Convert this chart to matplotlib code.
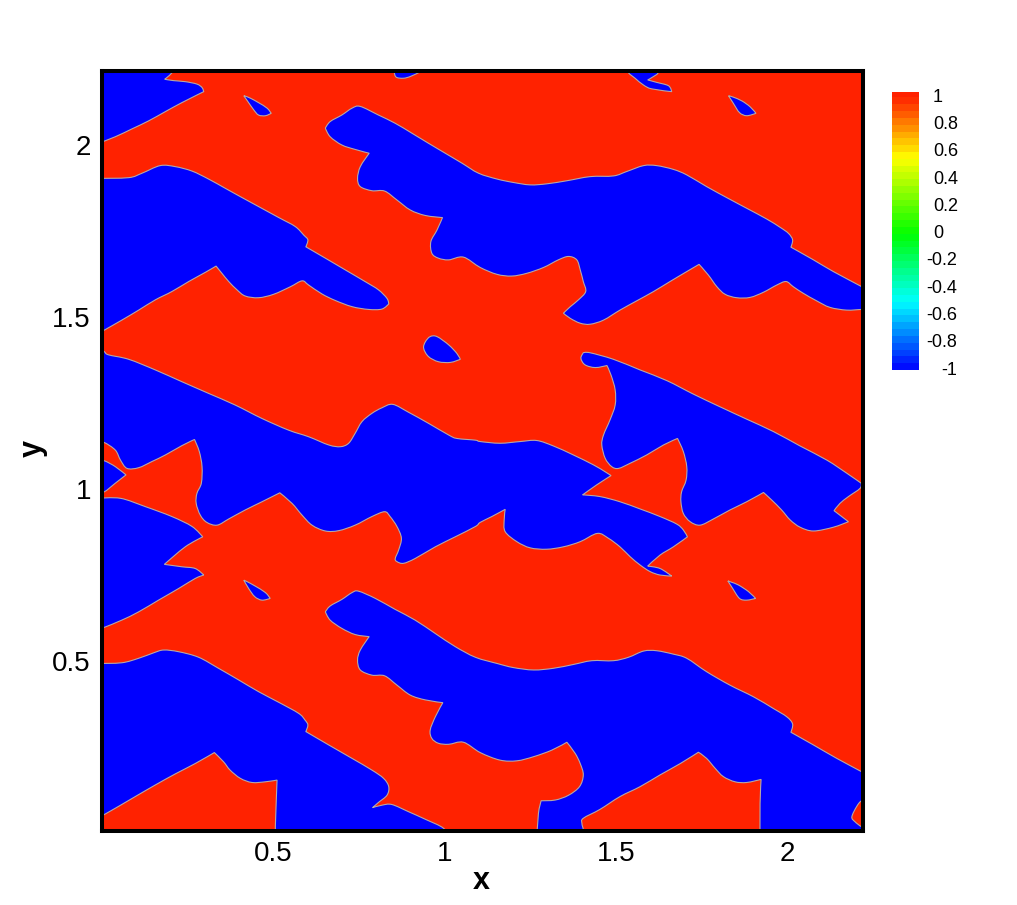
#! /usr/bin/env python3
import math
import matplotlib
matplotlib.use('Agg')
import matplotlib.pyplot as plt
from matplotlib.colors import LinearSegmentedColormap
from matplotlib.path import Path
from matplotlib.patches import PathPatch

# blue (phase = -1) regions, outlines in x,y units
corner_top_left = [(-0.01,2.005),(0.039,2.024),(0.088,2.047),(0.136,2.070),(0.185,2.097),(0.233,2.123),
    (0.297,2.155),(0.292,2.167),(0.277,2.177),(0.243,2.184),(0.209,2.187),(0.183,2.191),(0.206,2.213),
    (0.206,2.24),(-0.01,2.24)]
top_nub = [(0.853,2.24),(0.853,2.213),(0.859,2.197),(0.880,2.194),(0.900,2.199),(0.924,2.210),(0.924,2.24)]
top_hook = [(1.535,2.24),(1.535,2.213),(1.556,2.194),(1.581,2.174),(1.605,2.163),(1.663,2.155),(1.654,2.172),
    (1.619,2.182),(1.593,2.189),(1.610,2.199),(1.624,2.211),(1.624,2.24)]
drop_top_left = [(0.414,2.143),(0.426,2.126),(0.443,2.102),(0.457,2.087),(0.477,2.085),(0.494,2.092),
    (0.482,2.107),(0.457,2.123),(0.433,2.136),(0.418,2.142)]
drop_top_right = [(1.829,2.143),(1.843,2.121),(1.861,2.094),(1.882,2.085),(1.909,2.092),(1.892,2.111),
    (1.868,2.128),(1.843,2.139)]
drop_center = [(0.939,1.409),(0.944,1.428),(0.958,1.443),(0.978,1.443),(1.012,1.419),(1.036,1.394),
    (1.046,1.377),(1.017,1.368),(0.982,1.370),(0.953,1.385)]
drop_low_left = [(0.414,0.735),(0.428,0.711),(0.446,0.687),(0.467,0.677),(0.491,0.682),(0.477,0.699),
    (0.447,0.718),(0.423,0.731)]
drop_low_right = [(1.827,0.733),(1.841,0.711),(1.861,0.682),(1.882,0.677),(1.908,0.682),(1.887,0.702),
    (1.858,0.721),(1.838,0.729)]

band_upper_right = [(0.652,2.049),(0.666,2.068),(0.700,2.087),(0.730,2.107),(0.754,2.112),(0.807,2.087),
    (0.856,2.063),(0.905,2.034),(0.953,2.005),(1.002,1.976),(1.051,1.947),(1.099,1.918),(1.153,1.901),
    (1.201,1.891),(1.250,1.884),(1.298,1.887),(1.357,1.896),(1.425,1.908),(1.493,1.910),(1.532,1.923),
    (1.581,1.940),(1.619,1.940),(1.668,1.929),(1.707,1.913),(1.765,1.879),(1.833,1.842),(1.882,1.816),
    (1.940,1.785),(1.979,1.761),(2.004,1.743),(2.016,1.724),(2.011,1.703),(2.077,1.666),(2.135,1.632),
    (2.218,1.588),(2.242,1.574),(2.242,1.522),(2.218,1.522),(2.174,1.520),(2.125,1.528),(2.086,1.547),
    (2.047,1.569),(2.018,1.588),(1.997,1.603),(1.970,1.593),(1.931,1.572),(1.892,1.557),(1.853,1.556),
    (1.819,1.566),(1.795,1.588),(1.770,1.622),(1.743,1.653),(1.707,1.632),(1.658,1.603),(1.610,1.574),
    (1.561,1.547),(1.512,1.520),(1.464,1.491),(1.425,1.479),(1.396,1.482),(1.367,1.496),(1.347,1.511),
    (1.367,1.530),(1.391,1.550),(1.412,1.574),(1.405,1.603),(1.396,1.637),(1.386,1.666),(1.362,1.676),
    (1.332,1.666),(1.289,1.644),(1.240,1.627),(1.196,1.619),(1.153,1.624),(1.104,1.644),(1.055,1.674),
    (1.012,1.666),(0.982,1.671),(0.963,1.685),(0.960,1.719),(0.978,1.753),(0.994,1.789),(0.944,1.795),
    (0.900,1.811),(0.861,1.840),(0.825,1.866),(0.788,1.867),(0.754,1.879),(0.746,1.903),(0.754,1.937),
    (0.780,1.976),(0.739,1.987),(0.700,2.000),(0.666,2.024)]

band_upper_left = [(-0.01,1.903),(0.078,1.905),(0.117,1.918),(0.170,1.940),(0.214,1.937),(0.263,1.924),
    (0.311,1.901),(0.360,1.874),(0.409,1.847),(0.457,1.821),(0.516,1.789),(0.564,1.763),(0.589,1.738),
    (0.601,1.724),(0.595,1.704),(0.652,1.671),(0.710,1.637),(0.768,1.603),(0.807,1.579),(0.832,1.554),
    (0.837,1.538),(0.817,1.523),(0.778,1.522),(0.730,1.530),(0.681,1.548),(0.642,1.567),(0.603,1.593),
    (0.584,1.605),(0.550,1.588),(0.501,1.566),(0.457,1.556),(0.418,1.561),(0.394,1.579),(0.370,1.603),
    (0.350,1.627),(0.333,1.648),(0.302,1.630),(0.253,1.603),(0.204,1.574),(0.156,1.550),(0.107,1.520),
    (0.058,1.491),(0.007,1.462),(-0.01,1.452)]

band_middle = [(-0.01,1.41),(0.007,1.399),(0.019,1.390),(0.078,1.377),(0.156,1.346),(0.233,1.312),(0.311,1.278),
    (0.389,1.244),(0.467,1.205),(0.545,1.171),(0.603,1.152),(0.662,1.128),(0.696,1.123),(0.720,1.133),
    (0.739,1.162),(0.759,1.196),(0.788,1.220),(0.817,1.236),(0.849,1.246),(0.895,1.223),(0.953,1.191),
    (1.012,1.157),(1.036,1.147),(1.090,1.142),(1.104,1.138),(1.162,1.133),(1.221,1.138),(1.269,1.141),
    (1.318,1.125),(1.376,1.099),(1.435,1.070),(1.469,1.050),(1.486,1.039),(1.444,1.012),(1.403,0.983),
    (1.454,0.978),(1.512,0.963),(1.571,0.942),(1.629,0.920),(1.678,0.898),(1.697,0.881),(1.709,0.861),
    (1.668,0.832),(1.629,0.808),(1.593,0.776),(1.629,0.769),(1.663,0.747),(1.629,0.750),(1.600,0.760),
    (1.571,0.779),(1.542,0.803),(1.512,0.832),(1.478,0.857),(1.446,0.871),(1.396,0.847),(1.347,0.832),
    (1.298,0.825),(1.250,0.829),(1.211,0.847),(1.177,0.876),(1.174,0.910),(1.177,0.941),(1.138,0.920),
    (1.104,0.903),(1.090,0.891),(1.031,0.861),(0.973,0.832),(0.914,0.798),(0.880,0.784),(0.861,0.789),
    (0.856,0.798),(0.866,0.823),(0.874,0.857),(0.861,0.891),(0.841,0.920),(0.825,0.934),(0.788,0.920),
    (0.739,0.895),(0.691,0.879),(0.652,0.878),(0.613,0.895),(0.584,0.924),(0.555,0.958),(0.519,0.989),
    (0.467,0.963),(0.418,0.939),(0.370,0.913),(0.336,0.895),(0.306,0.903),(0.287,0.924),(0.275,0.958),
    (0.277,0.987),(0.290,1.017),(0.292,1.065),(0.284,1.109),(0.270,1.144),(0.233,1.126),(0.185,1.099),
    (0.146,1.080),(0.107,1.062),(0.073,1.060),(0.054,1.084),(0.039,1.113),(0.007,1.135),(-0.01,1.135)]

left_wedge = [(-0.01,1.082),(0.007,1.082),(0.039,1.065),(0.070,1.041),(0.039,1.017),(0.007,0.992),(-0.01,0.992)]

band_right_middle = [(1.398,1.380),(1.405,1.396),(1.425,1.396),(1.493,1.377),(1.571,1.346),(1.649,1.315),
    (1.726,1.276),(1.804,1.239),(1.882,1.203),(1.960,1.167),(2.038,1.125),(2.116,1.084),(2.174,1.046),
    (2.216,1.017),(2.213,1.002),(2.179,0.978),(2.154,0.958),(2.137,0.937),(2.179,0.905),(2.135,0.889),
    (2.077,0.878),(2.038,0.889),(2.009,0.910),(1.984,0.939),(1.955,0.968),(1.931,0.990),(1.882,0.963),
    (1.833,0.939),(1.785,0.913),(1.746,0.895),(1.717,0.905),(1.697,0.929),(1.690,0.963),(1.692,0.992),
    (1.705,1.026),(1.707,1.065),(1.697,1.109),(1.680,1.147),(1.639,1.128),(1.590,1.099),(1.542,1.075),
    (1.508,1.060),(1.488,1.065),(1.469,1.089),(1.459,1.128),(1.464,1.157),(1.483,1.201),(1.498,1.244),
    (1.498,1.288),(1.486,1.331),(1.474,1.359),(1.440,1.353),(1.410,1.361)]

left_blob = [(-0.01,0.973),(0.054,0.973),(0.126,0.949),(0.204,0.920),(0.263,0.891),(0.294,0.861),(0.243,0.832),
    (0.182,0.781),(0.233,0.774),(0.272,0.769),(0.297,0.750),(0.272,0.740),(0.224,0.711),(0.165,0.677),
    (0.107,0.643),(0.058,0.619),(0.007,0.598),(-0.01,0.592)]

band_lower_right = [(0.652,0.643),(0.666,0.660),(0.700,0.679),(0.730,0.699),(0.749,0.703),(0.798,0.682),
    (0.856,0.650),(0.914,0.619),(0.973,0.580),(1.031,0.542),(1.090,0.511),(1.153,0.493),(1.201,0.481),
    (1.260,0.474),(1.318,0.479),(1.376,0.490),(1.430,0.501),(1.493,0.501),(1.537,0.511),(1.581,0.529),
    (1.619,0.530),(1.668,0.520),(1.707,0.508),(1.765,0.469),(1.833,0.430),(1.902,0.396),(1.960,0.362),
    (1.999,0.338),(2.016,0.317),(2.011,0.293),(2.077,0.256),(2.145,0.217),(2.218,0.178),(2.242,0.164),
    (2.242,0.094),(2.218,0.094),(2.203,0.077),(2.189,0.047),(2.198,0.033),(2.218,0.018),(2.242,0.010),
    (2.242,-0.02),(1.921,-0.02),(1.921,0.086),(1.924,0.156),(1.882,0.147),(1.848,0.149),(1.814,0.164),
    (1.790,0.188),(1.765,0.217),(1.741,0.235),(1.688,0.202),(1.629,0.169),(1.571,0.135),(1.512,0.106),
    (1.454,0.069),(1.405,0.043),(1.401,0.028),(1.405,0.009),(1.405,-0.02),(1.269,-0.02),(1.274,0.057),
    (1.282,0.094),(1.323,0.096),(1.362,0.110),(1.394,0.135),(1.405,0.169),(1.396,0.202),(1.381,0.232),
    (1.357,0.264),(1.313,0.241),(1.260,0.222),(1.211,0.210),(1.162,0.212),(1.104,0.234),(1.055,0.264),
    (1.012,0.258),(0.982,0.261),(0.963,0.275),(0.958,0.299),(0.973,0.338),(0.995,0.379),(0.944,0.387),
    (0.900,0.401),(0.861,0.430),(0.825,0.457),(0.788,0.459),(0.754,0.474),(0.746,0.503),(0.754,0.532),
    (0.780,0.571),(0.739,0.577),(0.700,0.595),(0.666,0.619)]

band_lower_left = [(-0.01,0.493),(0.058,0.495),(0.107,0.508),(0.151,0.524),(0.180,0.532),(0.224,0.527),
    (0.282,0.511),(0.340,0.479),(0.399,0.445),(0.457,0.411),(0.516,0.380),(0.574,0.348),(0.593,0.328),
    (0.601,0.314),(0.595,0.295),(0.662,0.256),(0.730,0.217),(0.788,0.183),(0.822,0.159),(0.837,0.135),
    (0.832,0.110),(0.807,0.089),(0.790,0.074),(0.817,0.081),(0.846,0.083),(0.895,0.062),(0.944,0.040),
    (0.997,0.014),(1.021,-0.02),(0.506,-0.02),(0.506,0.018),(0.511,0.154),(0.477,0.149),(0.438,0.147),
    (0.404,0.159),(0.374,0.183),(0.355,0.207),(0.328,0.234),(0.272,0.202),(0.214,0.172),(0.156,0.140),
    (0.097,0.106),(0.049,0.078),(0.007,0.054),(-0.01,0.044)]

blue_regions = [corner_top_left, top_nub, top_hook, drop_top_left, drop_top_right, drop_center, drop_low_left,
    drop_low_right, band_upper_right, band_upper_left, band_middle, left_wedge, band_right_middle, left_blob,
    band_lower_right, band_lower_left]

x_ticks = [0.5, 1, 1.5, 2]
x_tick_labels = ['0.5', '1', '1.5', '2']
y_ticks = [0.5, 1, 1.5, 2]
y_tick_labels = ['0.5', '1', '1.5', '2']

level_edges = [-1.0, -0.95, -0.9, -0.85, -0.8, -0.75, -0.7, -0.65, -0.6, -0.55, -0.5,
               -0.45, -0.4, -0.35, -0.3, -0.25, -0.2, -0.15, -0.1, -0.05, 0.0,
               0.05, 0.1, 0.15, 0.2, 0.25, 0.3, 0.35, 0.4, 0.45, 0.5,
               0.55, 0.6, 0.65, 0.7, 0.75, 0.8, 0.85, 0.9, 0.95, 1.0, 1.04]
legend_values = [1, 0.8, 0.6, 0.4, 0.2, 0, -0.2, -0.4, -0.6, -0.8, -1]
legend_labels = ['1', '0.8', '0.6', '0.4', '0.2', '0', '-0.2', '-0.4', '-0.6', '-0.8', '-1']

RED = '#ff2200'
BLUE = '#0000ff'
W = 1017.0
H = 905.0

plt.rcParams['font.family'] = ['Liberation Sans', 'DejaVu Sans']

def outline_path( region ) :
    # curve through the traced points, sharp tips stay sharp
    n = len(region)
    tangents = []
    for i in range(n) :
        px, py = region[i-1]
        cx, cy = region[i]
        nx, ny = region[(i+1) % n]
        a1 = math.atan2(cy-py, cx-px)
        a2 = math.atan2(ny-cy, nx-cx)
        turn = abs((a2-a1+math.pi) % (2*math.pi) - math.pi)
        if turn > math.radians(65) :
            tangents.append((0.0, 0.0))
        else :
            tangents.append(((nx-px)/6.0, (ny-py)/6.0))
    verts = [region[0]]
    codes = [Path.MOVETO]
    for i in range(n) :
        j = (i+1) % n
        verts.append((region[i][0]+tangents[i][0], region[i][1]+tangents[i][1]))
        verts.append((region[j][0]-tangents[j][0], region[j][1]-tangents[j][1]))
        verts.append(region[j])
        codes += [Path.CURVE4, Path.CURVE4, Path.CURVE4]
    return Path(verts, codes)

def main():
    fig = plt.figure(figsize=(W/100, H/100), dpi=100)
    ax = fig.add_axes([102/W, 1-831/H, 761/W, 760/H])
    ax.set_facecolor(RED)
    for region in blue_regions:
        ax.add_patch(PathPatch(outline_path(region), facecolor=BLUE, edgecolor='#b4a8a8', linewidth=0.8))
    ax.set_xlim(0, 2.2215)
    ax.set_ylim(0.006, 2.215)
    ax.set_xticks(x_ticks)
    ax.set_xticklabels(x_tick_labels)
    ax.set_yticks(y_ticks)
    ax.set_yticklabels(y_tick_labels)
    ax.tick_params(axis='both', length=0, labelsize=20)
    ax.tick_params(axis='x', pad=7)
    ax.tick_params(axis='y', pad=8)
    for side in ax.spines.values():
        side.set_linewidth(2.9)
        side.set_color('black')
    ax.set_xlabel('x', fontsize=22, fontweight='bold', va='center')
    ax.set_ylabel('y', fontsize=22, fontweight='bold', va='center')
    ax.xaxis.set_label_coords(0.499, -0.066)
    ax.yaxis.set_label_coords(-0.0905, 0.503)

    # legend bar, stepped like the contour levels
    cmap = LinearSegmentedColormap.from_list('rainbow_levels',
        [(0.0, '#0000ff'), (0.25, '#00ffff'), (0.5, '#00ff00'), (0.78, '#ffff00'), (1.0, RED)])
    cax = fig.add_axes([892/W, 1-370/H, 27/W, 278/H])
    for low, high in zip(level_edges[:-1], level_edges[1:]):
        frac = min((low + high)/2.0/2.0 + 0.5, 1.0)
        cax.axhspan(low, high, color=cmap(frac), linewidth=0)
    cax.set_ylim(-1.0, 1.04)
    cax.set_xlim(0, 1)
    cax.set_xticks([])
    cax.set_yticks([])
    for side in cax.spines.values():
        side.set_visible(False)
    for value, label in zip(legend_values, legend_labels):
        if label.startswith('-'):
            cax.text(2.41, value, label, ha='right', va='center', fontsize=13, clip_on=False)
        else:
            cax.text(1.52, value, label, ha='left', va='center', fontsize=13, clip_on=False)

    fig.savefig('out.png', dpi=100)

if __name__ == '__main__':
    main()
